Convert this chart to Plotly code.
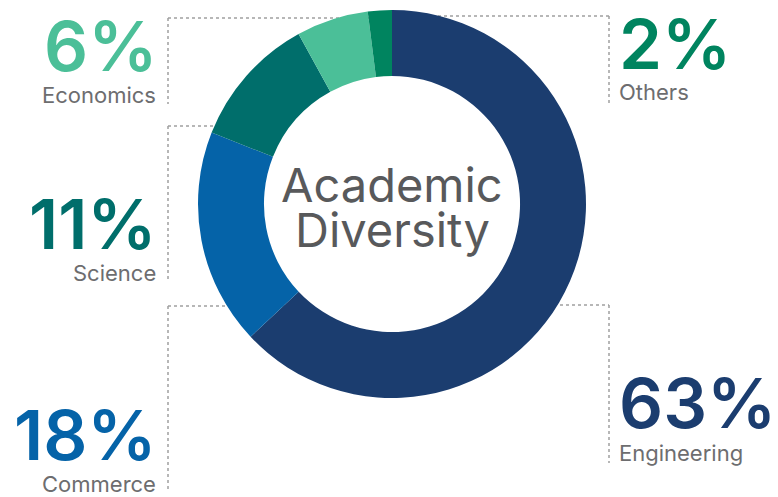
import plotly.graph_objects as go

# ---- data ----
categories = ["Engineering", "Commerce", "Science", "Economics", "Others"]
values = [63, 18, 11, 6, 2]
center_title = ["Academic", "Diversity"]

# ---- style ----
colors = ["#1b3d6f", "#0563a8", "#006e6b", "#4bbf98", "#00845f"]
OFF = 8  # default page margin of the html body
W, H = 778 - OFF, 497 - OFF

def px(x):
    return (x - OFF) / W

def py(y):
    return 1 - (y - OFF) / H

cx, cy, R = 392, 204, 194

fig = go.Figure()
fig.add_trace(go.Pie(
    labels=categories, values=values, hole=0.66, sort=False,
    direction="clockwise", rotation=0,
    marker=dict(colors=colors, line=dict(width=0)),
    textinfo="none", hoverinfo="label+percent", showlegend=False,
    domain=dict(x=[px(cx - R), px(cx + R)], y=[py(cy + R), py(cy - R)]),
))

# label placement (pixel coordinates of right/left edge and vertical centre)
label_pos = {
    "Economics": dict(x=159, nx=158, pct_y=46, name_y=95, anchor="right"),
    "Science": dict(x=159, nx=158, pct_y=224, name_y=273, anchor="right"),
    "Commerce": dict(x=159, nx=158, pct_y=435, name_y=484, anchor="right"),
    "Others": dict(x=617, nx=617, pct_y=44, name_y=92, anchor="left"),
    "Engineering": dict(x=617, nx=617, pct_y=403, name_y=453, anchor="left"),
}

for cat, val, col in zip(categories, values, colors):
    p = label_pos[cat]
    fig.add_annotation(
        x=px(p["x"]), y=py(p["pct_y"]), xref="paper", yref="paper",
        text=f"{val}%", showarrow=False, xanchor=p["anchor"], yanchor="middle",
        font=dict(family="Inter", size=69, color=col, weight=600),
    )
    fig.add_annotation(
        x=px(p["nx"]), y=py(p["name_y"]), xref="paper", yref="paper",
        text=cat, showarrow=False, xanchor=p["anchor"], yanchor="middle",
        font=dict(family="Inter", size=22, color="#6d6d6f"),
    )

for line, ty in zip(center_title, [184, 229]):
    fig.add_annotation(
        x=px(cx), y=py(ty), xref="paper", yref="paper",
        text=line, showarrow=False, xanchor="center", yanchor="middle",
        font=dict(family="Inter", size=47, color="#58595b"),
    )

# dotted connector brackets (drawn beneath the ring)
dot = dict(color="#a0a0a0", width=1.5, dash="dot")
segments = [
    (168, 18, 168, 104), (168, 18, 380, 18),
    (168, 126, 168, 282), (168, 126, 260, 126),
    (168, 306, 168, 492), (168, 306, 290, 306),
    (609, 16, 609, 104), (420, 16, 609, 16),
    (609, 305, 609, 463), (500, 305, 609, 305),
]
for x0, y0, x1, y1 in segments:
    fig.add_shape(type="line", xref="paper", yref="paper",
                  x0=px(x0), y0=py(y0), x1=px(x1), y1=py(y1),
                  line=dot, layer="below")

fig.update_layout(
    width=W, height=H, margin=dict(l=0, r=0, t=0, b=0),
    paper_bgcolor="white", plot_bgcolor="white",
)
fig.write_html("out.html")
